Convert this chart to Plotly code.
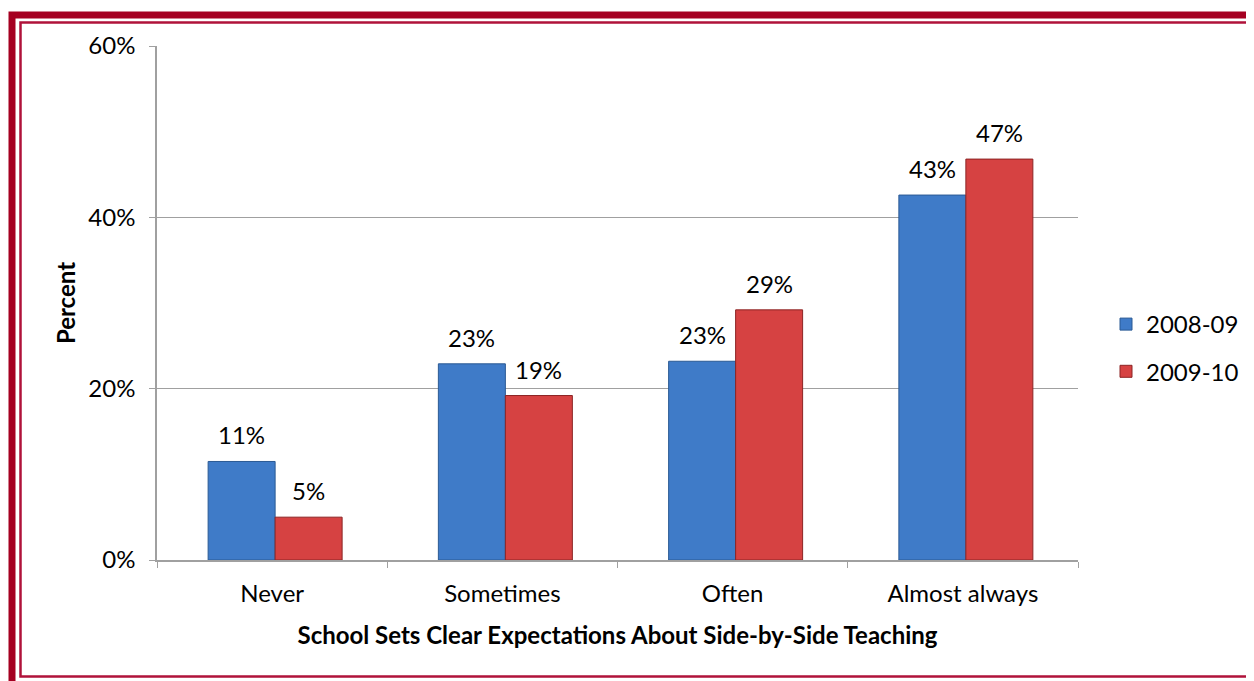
import plotly.graph_objects as go

categories = ["Never", "Sometimes", "Often", "Almost always"]
series_names = ["2008-09", "2009-10"]
values_2008 = [11.5, 22.9, 23.2, 42.6]
values_2009 = [5.0, 19.2, 29.2, 46.8]
labels_2008 = ["11%", "23%", "23%", "43%"]
labels_2009 = ["5%", "19%", "29%", "47%"]
y_ticks = [0, 20, 40, 60]
y_tick_labels = ["0%", "20%", "40%", "60%"]

# page body has an 8px margin, so the figure is laid out 8px up/left
OFF = 8
W, H = 1254 - OFF, 681 - OFF
L, R, T, B = 157 - OFF, 1078 - OFF, 46 - OFF, 560 - OFF
FONT = "Lato"
FS = 24

fills = ["#3F7BC8", "#D64242"]
lines = ["#2B5A94", "#8C2424"]

CAT_PX = (R - L) / len(categories)
BAR_W = 0.291
offsets = [-BAR_W + 0.013, 0.013]

fig = go.Figure()
for name, vals, fc, lc, off in zip(series_names, [values_2008, values_2009], fills, lines, offsets):
    fig.add_trace(go.Bar(
        x=categories, y=vals, name=name, legendgroup=name,
        width=BAR_W, offset=off,
        marker=dict(color=fc, line=dict(color=lc, width=1)),
    ))

annotations = []
for vals, labs, off in [(values_2008, labels_2008, offsets[0]), (values_2009, labels_2009, offsets[1])]:
    for c, v, t in zip(categories, vals, labs):
        annotations.append(dict(x=c, y=v, text=t, xref="x", yref="y", showarrow=False,
                                xshift=(off + BAR_W / 2) * CAT_PX, yshift=10, yanchor="bottom",
                                font=dict(family=FONT, size=FS, color="#000000")))

def px(x):
    return (x - OFF - L) / (R - L)

def py(y):
    return (B - (y - OFF)) / (B - T)

shapes = [
    dict(type="rect", xref="paper", yref="paper", x0=px(12), x1=px(1290), y0=py(15), y1=py(720),
         line=dict(color="#A50021", width=7), layer="above"),
    dict(type="rect", xref="paper", yref="paper", x0=px(20.5), x1=px(1251), y0=py(22.5), y1=py(676.5),
         line=dict(color="#B0123A", width=2.5), layer="above"),
]

fig.update_layout(
    width=W, height=H,
    margin=dict(l=L, r=W - R, t=T, b=H - B, pad=0, autoexpand=False),
    paper_bgcolor="white", plot_bgcolor="white",
    barmode="overlay",
    font=dict(family=FONT, size=FS, color="#000000"),
    xaxis=dict(
        showline=True, linecolor="#A0A0A0", linewidth=1.5,
        ticks="outside", ticklen=6, tickcolor="#A0A0A0", tickson="boundaries",
        tickfont=dict(family=FONT, size=FS), ticklabelstandoff=11,
        title=dict(text="<b>School Sets Clear Expectations About Side-by-Side Teaching</b>",
                   font=dict(family=FONT, size=FS), standoff=22),
    ),
    yaxis=dict(
        range=[0, 60], tickvals=y_ticks, ticktext=y_tick_labels,
        showline=True, linecolor="#A0A0A0", linewidth=1.5,
        showgrid=True, gridcolor="#A0A0A0", gridwidth=1.2,
        ticks="outside", ticklen=6, tickcolor="#A0A0A0", ticklabelstandoff=9,
        tickfont=dict(family=FONT, size=FS), zeroline=False,
        title=dict(text="<b>Percent</b>", font=dict(family=FONT, size=FS), standoff=6),
    ),
    legend=dict(x=px(1106), y=py(348), xanchor="left", yanchor="middle",
                font=dict(family=FONT, size=FS), tracegroupgap=13, itemwidth=30,
                bgcolor="rgba(0,0,0,0)"),
    annotations=annotations,
    shapes=shapes,
)

fig.write_html("out.html")
